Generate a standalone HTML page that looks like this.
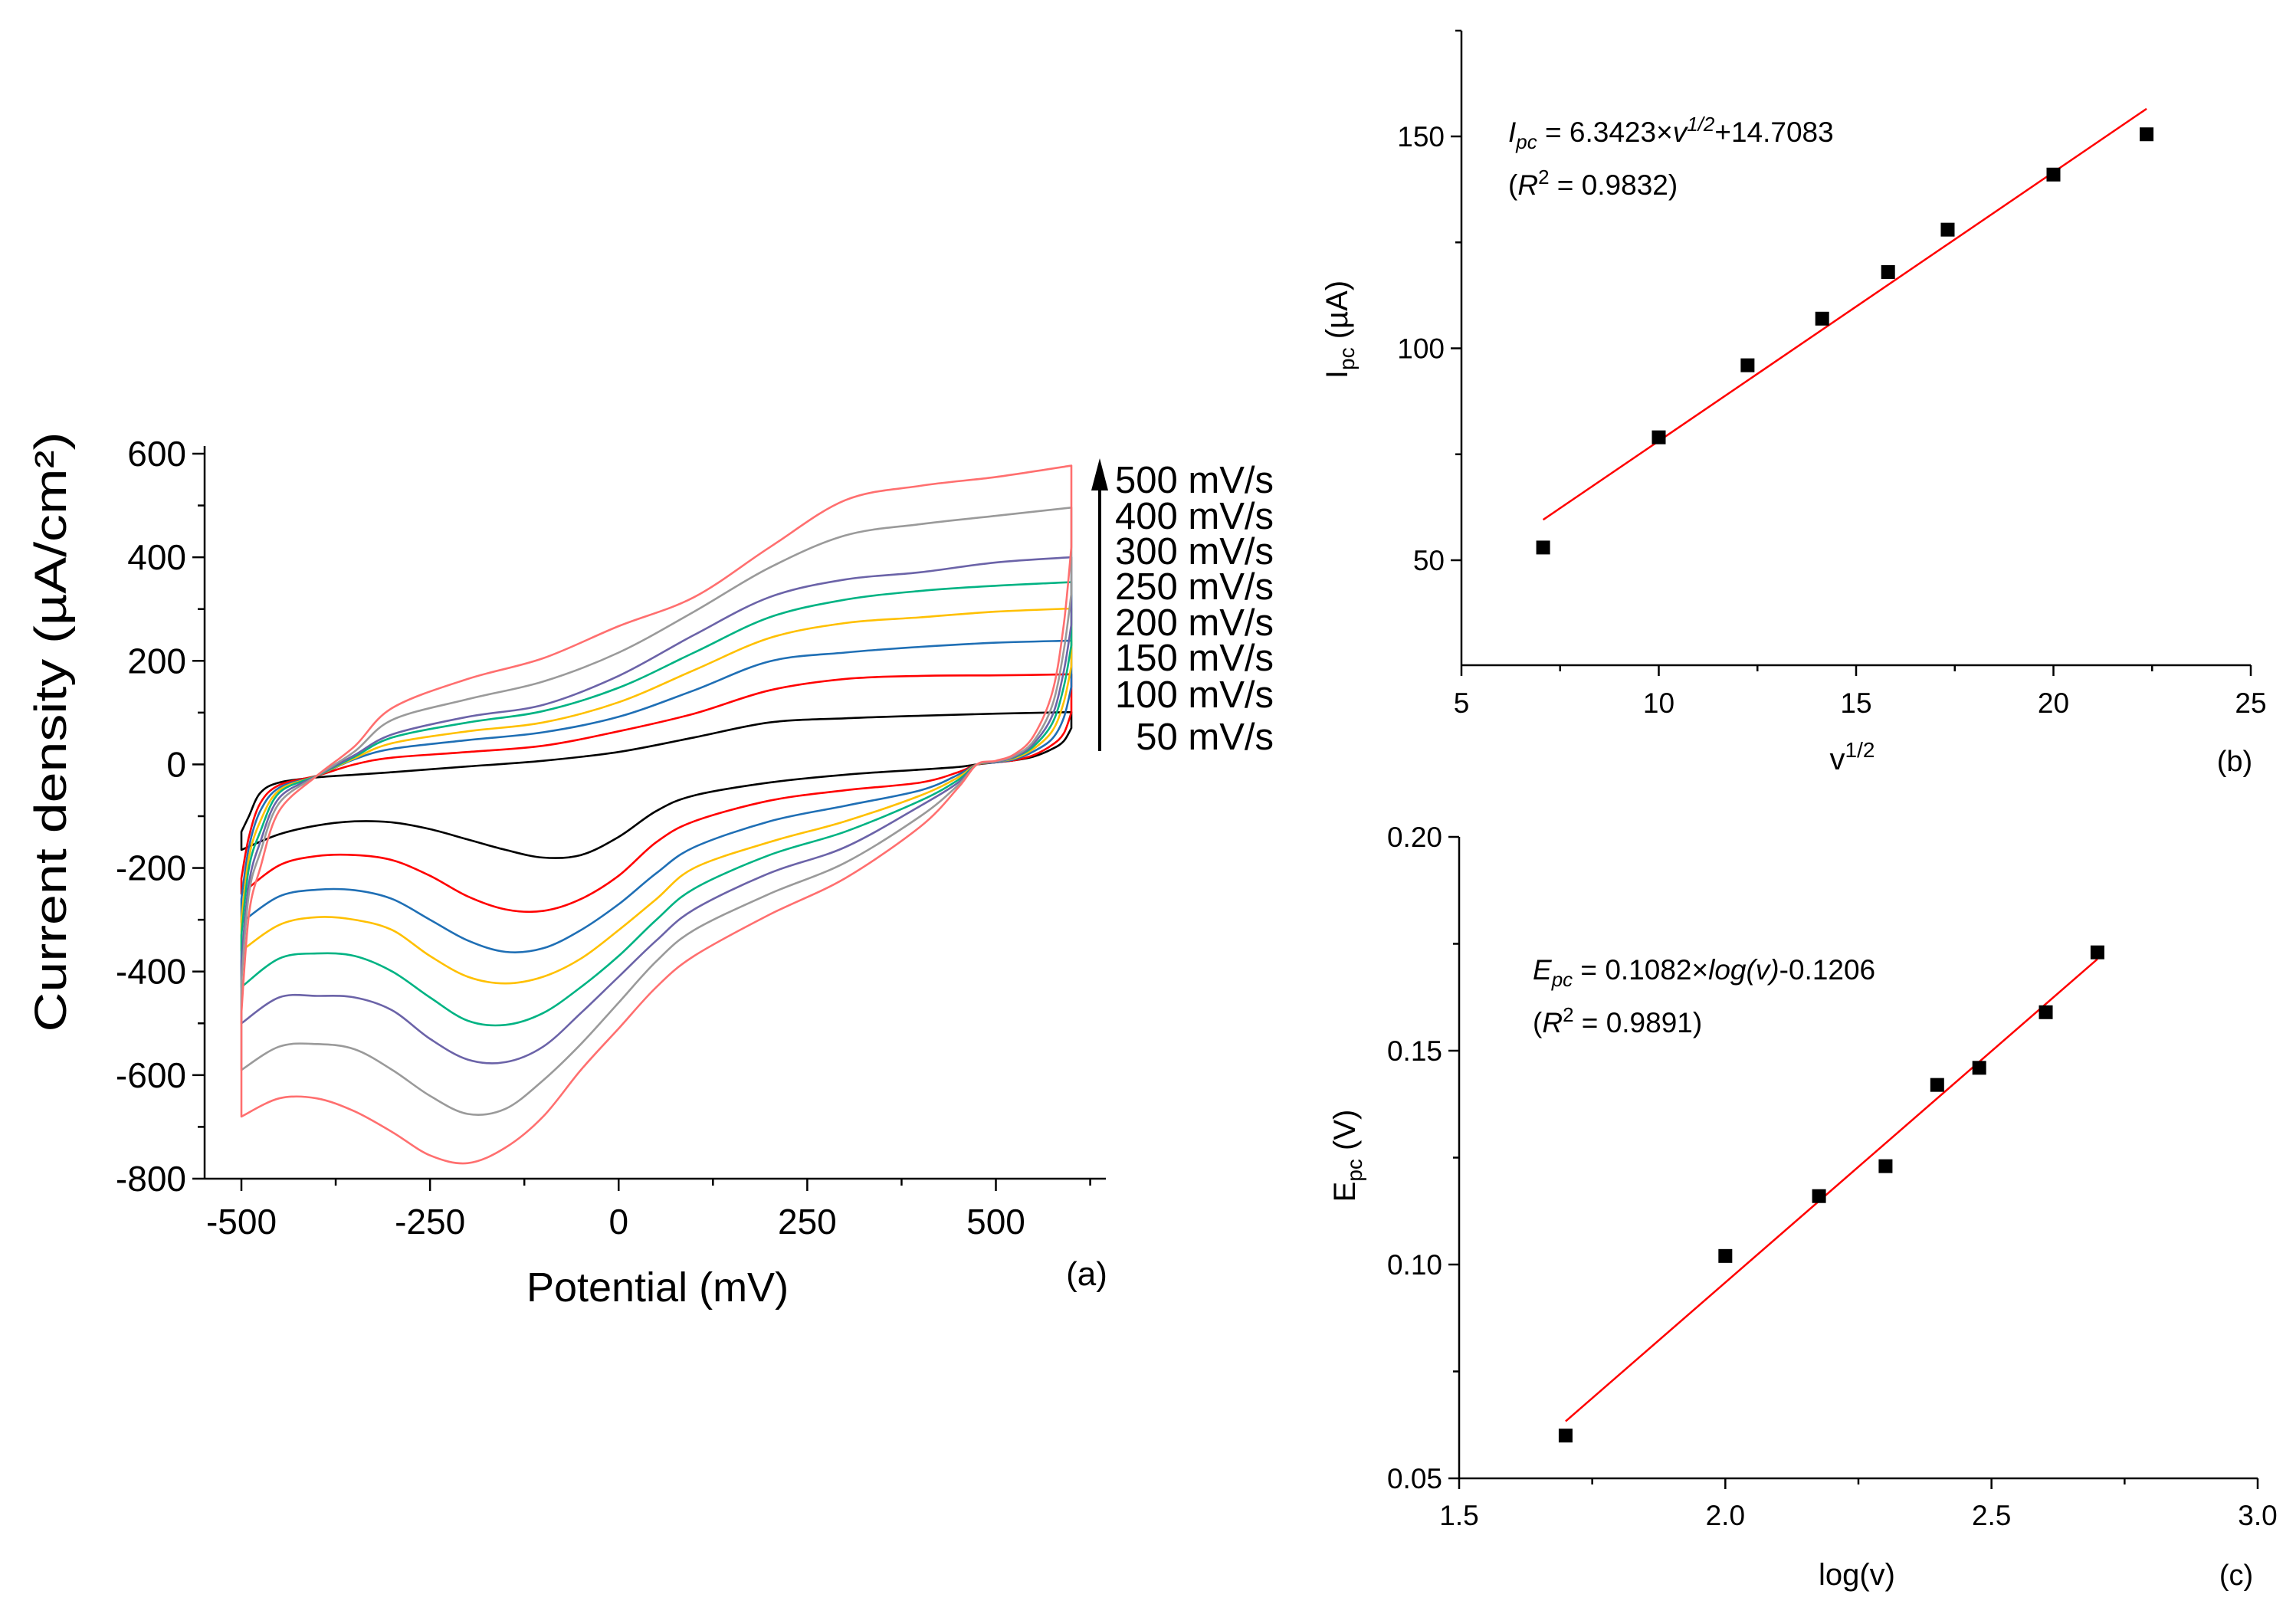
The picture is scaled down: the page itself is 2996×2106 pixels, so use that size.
<!DOCTYPE html>
<html><head><meta charset="utf-8"><style>
html,body{margin:0;padding:0;background:#fff;}
svg{display:block;font-family:"Liberation Sans",sans-serif;}
</style></head><body>
<svg id="fig" width="2996" height="2106" viewBox="0 0 2996 2106" xmlns="http://www.w3.org/2000/svg">
<g id="pa"></g>
<g id="pb"></g>
<g id="pc"></g>
</svg>
<script>
// ---------- Panel (a) data ----------
const scanRates = ["50 mV/s","100 mV/s","150 mV/s","200 mV/s","250 mV/s","300 mV/s","400 mV/s","500 mV/s"];
const curveColors = ["#000000","#ff0000","#1f6fb5","#ffc000","#00b383","#6b63a8","#9a9a9a","#ff6f6f"];
const upperPotentials = [-500,-490,-475,-450,-400,-350,-300,-200,-100,0,100,200,300,400,500,600];
const upperBlack  = [-130,-100,-55,-35,-25,-20,-15,-4,7,24,52,81,89,94,98,101];
const upperRed    = [-220,-140,-75,-40,-22,0,13,24,36,64,98,143,165,171,172,174];
const upperBlue   = [-260,-160,-90,-45,-22,10,30,47,62,92,143,199,216,227,235,239];
const upperYellow = [-300,-180,-110,-50,-22,12,41,64,81,120,182,244,273,284,295,301];
const upperGreen  = [-330,-200,-130,-55,-22,15,52,81,103,148,216,284,318,335,345,352];
const upperPurple = [-380,-230,-150,-65,-22,18,58,92,115,171,250,323,357,371,390,400];
const upperGray   = [-420,-250,-170,-75,-22,25,86,126,160,216,295,380,442,464,480,496];
const upperPink   = [-480,-290,-200,-90,-22,35,109,165,205,267,323,419,510,538,555,577];
const lowerPotentials = [600,590,575,550,525,500,475,450,400,300,200,100,50,0,-50,-100,-150,-200,-250,-300,-350,-400,-450,-500];
const lowerBlack  = [70,45,30,15,8,4,0,-5,-10,-20,-35,-60,-90,-140,-175,-180,-165,-145,-125,-112,-110,-118,-135,-165];
const lowerRed    = [100,60,38,18,8,4,0,-15,-35,-50,-70,-110,-150,-215,-260,-283,-280,-255,-215,-185,-175,-177,-195,-250];
const lowerBlue   = [150,90,50,25,10,4,0,-20,-50,-80,-110,-160,-210,-270,-320,-355,-362,-340,-300,-260,-243,-242,-255,-305];
const lowerYellow = [190,120,65,30,12,5,0,-25,-60,-110,-150,-200,-260,-320,-375,-410,-423,-410,-370,-320,-300,-295,-310,-360];
const lowerGreen  = [230,150,80,35,14,5,0,-30,-70,-130,-175,-240,-300,-370,-430,-480,-503,-495,-450,-400,-370,-365,-375,-430];
const lowerPurple = [270,180,95,40,15,5,0,-35,-80,-160,-210,-280,-340,-410,-480,-545,-575,-570,-530,-475,-450,-447,-450,-500];
const lowerGray   = [330,220,115,45,17,6,0,-40,-100,-190,-250,-320,-380,-460,-540,-610,-665,-675,-640,-590,-550,-540,-545,-590];
const lowerPink   = [420,270,140,55,20,7,0,-45,-120,-220,-290,-370,-430,-510,-590,-680,-740,-770,-755,-710,-670,-645,-645,-680];
const aYTicks = [-800,-600,-400,-200,0,200,400,600];
const aXTicks = [-500,-250,0,250,500];

// ---------- Panel (b) data ----------
const bX = [7.07,10,12.25,14.14,15.81,17.32,20,22.36];
const bY = [53,79,96,107,118,128,141,150.5];
const bSlope = [6.3423];
const bIntercept = [14.7083];
const bXTicks = [5,10,15,20,25];
const bYTicks = [50,100,150];

// ---------- Panel (c) data ----------
const cX = [1.70,2.00,2.176,2.301,2.398,2.477,2.602,2.699];
const cY = [0.060,0.102,0.116,0.123,0.142,0.146,0.159,0.173];
const cSlope = [0.1082];
const cIntercept = [-0.1206];
const cXTicks = [1.5,2.0,2.5,3.0];
const cYTicks = [0.05,0.10,0.15,0.20];

const NS="http://www.w3.org/2000/svg";
function mk(parent,tag,attrs,text){const e=document.createElementNS(NS,tag);for(const k in attrs)e.setAttribute(k,attrs[k]);if(text!==undefined)e.textContent=text;parent.appendChild(e);return e;}
function smoothSeg(pts){let d="";
 for(let i=0;i<pts.length-1;i++){const p0=pts[i-1]||pts[i],p1=pts[i],p2=pts[i+1],p3=pts[i+2]||p2;
  const c1=[p1[0]+(p2[0]-p0[0])/6,p1[1]+(p2[1]-p0[1])/6],c2=[p2[0]-(p3[0]-p1[0])/6,p2[1]-(p3[1]-p1[1])/6];
  d+=" C"+c1[0].toFixed(1)+","+c1[1].toFixed(1)+" "+c2[0].toFixed(1)+","+c2[1].toFixed(1)+" "+p2[0].toFixed(1)+","+p2[1].toFixed(1);}
 return d;}

// ===== Panel A =====
(function(){
const g=document.getElementById('pa');
const ax=v=>315+(v+500)*0.9845, ay=v=>592+(600-v)*0.6757;
const L=267,R=1443,T=592,B=1538;
const uppers=[upperBlack,upperRed,upperBlue,upperYellow,upperGreen,upperPurple,upperGray,upperPink];
const lowers=[lowerBlack,lowerRed,lowerBlue,lowerYellow,lowerGreen,lowerPurple,lowerGray,lowerPink];
for(let c=0;c<8;c++){
 const up=upperPotentials.map((p,i)=>[ax(p),ay(uppers[c][i])]);
 const lo=lowerPotentials.map((p,i)=>[ax(p),ay(lowers[c][i])]);
 const d="M"+up[0][0].toFixed(1)+","+up[0][1].toFixed(1)+smoothSeg(up)+" L"+lo[0][0].toFixed(1)+","+lo[0][1].toFixed(1)+smoothSeg(lo)+" Z";
 const p=mk(g,'path',{d:d,fill:'none',stroke:curveColors[c],'stroke-width':2.6,'stroke-linejoin':'round'});
 
 
}
const axes=mk(g,'g',{stroke:'#000','stroke-width':2.5});

mk(axes,'line',{x1:L,y1:T-10,x2:L,y2:B});
mk(axes,'line',{x1:L,y1:B,x2:R,y2:B});
for(let v=-800;v<=600;v+=100){const y=ay(v);mk(axes,'line',{x1:L-(v%200===0?16:9),y1:y,x2:L,y2:y});}
for(let v=-500;v<=625;v+=125){const x=ax(v);mk(axes,'line',{x1:x,y1:B,x2:x,y2:B+(v%250===0?16:9)});}
aYTicks.forEach(v=>{const t=mk(g,'text',{x:L-24,y:ay(v)+16,'text-anchor':'end','font-size':46},String(v));
 });
aXTicks.forEach(v=>{const t=mk(g,'text',{x:ax(v),y:B+72,'text-anchor':'middle','font-size':46},String(v));
 });
const yt=mk(g,'text',{x:0,y:0,'text-anchor':'middle','font-size':58,textLength:783,lengthAdjust:'spacingAndGlyphs',transform:'translate(86,955) rotate(-90)'},'Current density (µA/cm²)');

const xt=mk(g,'text',{x:858,y:1698,'text-anchor':'middle','font-size':54},'Potential (mV)');

const lab=mk(g,'text',{x:1418,y:1677,'text-anchor':'middle','font-size':44},'(a)');

const arr=mk(g,'line',{x1:1435,y1:980,x2:1435,y2:630,stroke:'#000','stroke-width':4});

const ah=mk(g,'polygon',{points:'1424,640 1446,640 1435,598',fill:'#000'});

const ys=[643,690,736,782,829,875,923,978];
for(let i=0;i<8;i++){const t=mk(g,'text',{x:1662,y:ys[i],'text-anchor':'end','font-size':49},scanRates[7-i]);
 }
})();

// ===== Panel B =====
(function(){
const g=document.getElementById('pb');
const L=1907,R=2937,T=40,B=868;
const bx=v=>L+(v-5)*(R-L)/20, by=v=>731-(v-50)*5.53;
const axes=mk(g,'g',{stroke:'#000','stroke-width':2.5});

mk(axes,'line',{x1:L,y1:T,x2:L,y2:B});mk(axes,'line',{x1:L,y1:B,x2:R,y2:B});
for(let v=50;v<=150;v+=25){mk(axes,'line',{x1:L-(v%50===0?14:8),y1:by(v),x2:L,y2:by(v)});}
mk(axes,'line',{x1:L-8,y1:T,x2:L,y2:T});
for(let v=5;v<=25;v+=2.5){mk(axes,'line',{x1:bx(v),y1:B,x2:bx(v),y2:B+(v%5===0?14:8)});}
bYTicks.forEach(v=>{const t=mk(g,'text',{x:L-22,y:by(v)+13,'text-anchor':'end','font-size':37},String(v));
 });
bXTicks.forEach(v=>{const t=mk(g,'text',{x:bx(v),y:930,'text-anchor':'middle','font-size':37},String(v));
 });
const x0=bX[0],x1=bX[bX.length-1];
const fit=mk(g,'line',{x1:bx(x0),y1:by(bSlope[0]*x0+bIntercept[0]),x2:bx(x1),y2:by(bSlope[0]*x1+bIntercept[0]),stroke:'#ff0000','stroke-width':2.5});

bX.forEach((v,i)=>{const r=mk(g,'rect',{x:bx(v)-9,y:by(bY[i])-9,width:18,height:18,fill:'#000'});
 });
const eq=mk(g,'text',{x:1968,y:185,'font-size':37});

eq.innerHTML='<tspan font-style="italic">I</tspan><tspan font-style="italic" font-size="26" dy="9">pc</tspan><tspan dy="-9"> = 6.3423×</tspan><tspan font-style="italic">v</tspan><tspan font-style="italic" font-size="26" dy="-14">1/2</tspan><tspan dy="14">+14.7083</tspan>';
const r2=mk(g,'text',{x:1968,y:254,'font-size':37});

r2.innerHTML='(<tspan font-style="italic">R</tspan><tspan font-size="26" dy="-14">2</tspan><tspan dy="14"> = 0.9832)</tspan>';
const yt=mk(g,'text',{x:0,y:0,'font-size':40,'text-anchor':'middle',transform:'translate(1758,430) rotate(-90)'});

yt.innerHTML='I<tspan font-size="28" dy="9">pc</tspan><tspan dy="-9"> (µA)</tspan>';
const xt=mk(g,'text',{x:2417,y:1004,'font-size':40,'text-anchor':'middle'});

xt.innerHTML='v<tspan font-size="28" dy="-16">1/2</tspan>';
const lab=mk(g,'text',{x:2916,y:1006,'text-anchor':'middle','font-size':38},'(b)');

})();

// ===== Panel C =====
(function(){
const g=document.getElementById('pc');
const L=1904,R=2946,T=1092,B=1929;
const cx=v=>L+(v-1.5)*(R-L)/1.5, cy=v=>B-(v-0.05)*(B-T)/0.15;
const axes=mk(g,'g',{stroke:'#000','stroke-width':2.5});

mk(axes,'line',{x1:L,y1:T,x2:L,y2:B});mk(axes,'line',{x1:L,y1:B,x2:R,y2:B});
for(let k=0;k<=6;k++){const v=0.05+k*0.025;mk(axes,'line',{x1:L-(k%2===0?14:8),y1:cy(v),x2:L,y2:cy(v)});}
for(let k=0;k<=6;k++){const v=1.5+k*0.25;mk(axes,'line',{x1:cx(v),y1:B,x2:cx(v),y2:B+(k%2===0?14:8)});}
cYTicks.forEach(v=>{const t=mk(g,'text',{x:L-22,y:cy(v)+13,'text-anchor':'end','font-size':37},v.toFixed(2));
 });
cXTicks.forEach(v=>{const t=mk(g,'text',{x:cx(v),y:1990,'text-anchor':'middle','font-size':37},v.toFixed(1));
 });
const x0=cX[0],x1=cX[cX.length-1];
const fit=mk(g,'line',{x1:cx(x0),y1:cy(cSlope[0]*x0+cIntercept[0]),x2:cx(x1),y2:cy(cSlope[0]*x1+cIntercept[0]),stroke:'#ff0000','stroke-width':2.5});

cX.forEach((v,i)=>{const r=mk(g,'rect',{x:cx(v)-9,y:cy(cY[i])-9,width:18,height:18,fill:'#000'});
 });
const eq=mk(g,'text',{x:2000,y:1278,'font-size':37});

eq.innerHTML='<tspan font-style="italic">E</tspan><tspan font-style="italic" font-size="26" dy="9">pc</tspan><tspan dy="-9"> = 0.1082×</tspan><tspan font-style="italic">log(v)</tspan>-0.1206';
const r2=mk(g,'text',{x:2000,y:1347,'font-size':37});

r2.innerHTML='(<tspan font-style="italic">R</tspan><tspan font-size="26" dy="-14">2</tspan><tspan dy="14"> = 0.9891)</tspan>';
const yt=mk(g,'text',{x:0,y:0,'font-size':40,'text-anchor':'middle',transform:'translate(1768,1508) rotate(-90)'});

yt.innerHTML='E<tspan font-size="28" dy="9">pc</tspan><tspan dy="-9"> (V)</tspan>';
const xt=mk(g,'text',{x:2423,y:2068,'font-size':40,'text-anchor':'middle'},'log(v)');

const lab=mk(g,'text',{x:2918,y:2068,'text-anchor':'middle','font-size':38},'(c)');

})();
</script>
</body></html>
